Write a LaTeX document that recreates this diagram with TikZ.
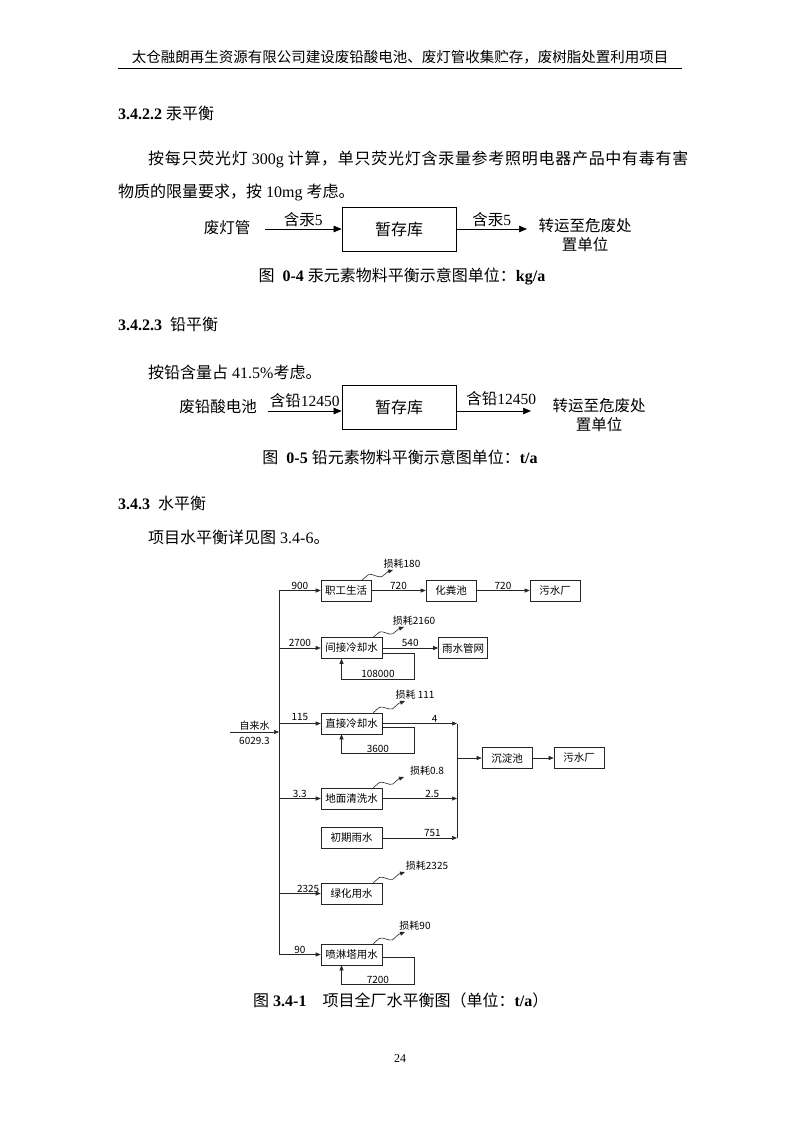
\documentclass[tikz,border=0pt]{standalone}
\usepackage{fontspec}
\setmainfont{Liberation Serif}
\newfontfamily\cjk{Noto Sans CJK SC}
\usetikzlibrary{arrows.meta,decorations.pathmorphing}
\newcommand{\zh}[1]{{\cjk #1}}
\newcommand{\zhs}[1]{{\cjk\addfontfeature{LetterSpace=4.5}#1}}
\newcommand{\TX}{279}
\newcommand{\CX}{457}

\begin{document}
\begin{tikzpicture}[x=1pt, y=-1pt,
    body/.style={font=\fontsize{16}{19}\selectfont, inner sep=0pt, anchor=west},
    capt/.style={font=\fontsize{16}{19}\selectfont, inner sep=0pt},
    txt/.style={font=\fontsize{15.5}{19}\selectfont\cjk, inner sep=0pt, align=center},
    blk/.style={draw=black, line width=0.8pt, minimum width=114pt, minimum height=44pt,
      inner sep=0pt, font=\fontsize{16}{19}\selectfont\cjk},
    bigflow/.style={draw=black, line width=0.7pt, -{Triangle[length=8pt,width=6.5pt]}},
    wbox/.style={draw=black!85, line width=0.6pt, minimum width=61pt, minimum height=21pt,
      inner sep=0pt, font=\fontsize{10.5}{12}\selectfont\cjk},
    wire/.style={draw=black!85, line width=0.6pt},
    flow/.style={wire, -{Triangle[length=5pt,width=4pt]}},
    num/.style={font=\fontsize{10}{12}\selectfont\cjk, inner sep=1pt},
    wave/.style={flow, decorate,
      decoration={snake, amplitude=3pt, segment length=24pt, post length=5pt}},
  ]
  \fill[white] (0,0) rectangle (800,1131);
  \useasboundingbox (0,0) rectangle (800,1131);

  % loss branch: #1 box, #2 name, #3 tip, #4 label centre, #5 text
  \newcommand{\loss}[5]{%
    \coordinate (#2tip) at (#3);
    \node[num] (#2) at (#4) {#5};
    \draw[wave] ([xshift=-9pt]#1.north east) -- (#2tip);}

  % page header
  \node[font=\fontsize{14.5}{16}\selectfont\cjk, inner sep=0pt] (hdr) at (400,57)
    {太仓融朗再生资源有限公司建设废铅酸电池、废灯管收集贮存，废树脂处置利用项目};
  \draw[line width=0.9pt] (118,68.5) -- (682,68.5);

  % mercury
  \node[body] (secA) at (118,113) {\textbf{3.4.2.2} \zh{汞平衡}};
  \node[body] (parA) at (148,159)
    {\zhs{按每只荧光灯} 300g \zhs{计算，单只荧光灯含汞量参考照明电器产品中有毒有害}};
  \node[body] (parB) at (118,192) {\zh{物质的限量要求，按} 10mg \zh{考虑。}};

  \node[txt] (lamp) at (227,228) {废灯管};
  \coordinate (lampout) at (265,229);
  \node[blk] (storeA) at (399,229) {暂存库};
  \coordinate (destAin) at (527,229);
  \node[txt] (destA) at (585,235) {转运至危废处\\置单位};
  \draw[bigflow] (lampout) -- (storeA.west)
    node[txt, midway, above=2pt] {含汞\rmfamily 5};
  \draw[bigflow] (storeA.east) -- (destAin)
    node[txt, midway, above=2pt] {含汞\rmfamily 5};
  \node[capt] (capA) at (402,276)
    {\zh{图}\ \ \textbf{0-4} \zh{汞元素物料平衡示意图单位：}\textbf{kg/a}};

  % lead
  \node[body] (secB) at (118,324) {\textbf{3.4.2.3}\ \ \zh{铅平衡}};
  \node[body] (parC) at (148,372) {\zh{按铅含量占} 41.5\%\zh{考虑。}};

  \node[txt] (batt) at (218,407) {废铅酸电池};
  \coordinate (battout) at (268,411);
  \node[blk] (storeB) at (399,407) {暂存库};
  \coordinate (destBin) at (531,411);
  \node[txt] (destB) at (599,415) {转运至危废处\\置单位};
  \draw[bigflow] (battout) -- (battout -| storeB.west)
    node[txt, midway, above=3pt] {含铅\rmfamily 12450};
  \draw[bigflow] (destBin -| storeB.east) -- (destBin)
    node[txt, pos=0.6, above=5pt] {含铅\rmfamily 12450};
  \node[capt] (capB) at (400,457)
    {\zh{图}\ \ \textbf{0-5} \zh{铅元素物料平衡示意图单位：}\textbf{t/a}};

  % water
  \node[body] (secC) at (118,503) {\textbf{3.4.3}\ \ \zh{水平衡}};
  \node[body] (parD) at (148,537) {\zh{项目水平衡详见图} 3.4-6\zh{。}};

  \coordinate (trt) at (\TX,590.5);
  \coordinate (trb) at (\TX,954.5);
  \coordinate (src) at (230,732);
  \coordinate (colt) at (\CX,723.5);
  \coordinate (colb) at (\CX,838);

  \node[wbox, minimum width=50pt] (staff)  at (346,590.5) {职工生活};
  \node[wbox, minimum width=50pt] (septic) at (451,590.5) {化粪池};
  \node[wbox, minimum width=50pt] (plantA) at (555,590.5) {污水厂};
  \node[wbox] (icool) at (351.5,648) {间接冷却水};
  \node[wbox, minimum width=49pt] (rain) at (463,648) {雨水管网};
  \node[wbox] (dcool) at (351.5,723.5) {直接冷却水};
  \node[wbox] (floor) at (351.5,798.5) {地面清洗水};
  \node[wbox] (early) at (351.5,838) {初期雨水};
  \node[wbox] (green) at (351.5,893.5) {绿化用水};
  \node[wbox] (spray) at (351.5,954.5) {喷淋塔用水};
  \node[wbox, minimum width=50pt] (settle) at (507,758) {沉淀池};
  \node[wbox, minimum width=50pt] (plantB) at (579,758) {污水厂};

  % supply trunk
  \draw[wire] (trt) -- (trb);
  \draw[flow] (src) -- (src -| trt)
    node[num, midway, above] {自来水} node[num, midway, below=4pt] {6029.3};
  \draw[flow] (staff.west -| trt) -- (staff.west) node[num, midway, above] {900};
  \draw[flow] (icool.west -| trt) -- (icool.west) node[num, midway, above] {2700};
  \draw[flow] (dcool.west -| trt) -- (dcool.west) node[num, midway, above=2pt] {115};
  \draw[flow] (floor.west -| trt) -- (floor.west) node[num, midway, above] {3.3};
  \draw[flow] (green.west -| trt) -- (green.west) node[num, pos=0.7, above] {2325};
  \draw[flow] (spray.west -| trt) -- (spray.west) node[num, midway, above] {90};

  % onward flows
  \draw[flow] (staff) -- (septic) node[num, midway, above] {720};
  \draw[flow] (septic) -- (plantA) node[num, midway, above] {720};
  \draw[flow] (icool) -- (rain) node[num, midway, above] {540};
  \draw[flow] (dcool.east) -- (dcool.east -| colt) node[num, pos=0.7, above] {4};
  \draw[flow] (floor.east) -- (floor.east -| colt) node[num, pos=0.67, above] {2.5};
  \draw[flow] (early.east) -- (early.east -| colt) node[num, pos=0.67, above] {751};
  \draw[wire] (colt) -- (colb);
  \draw[flow] (settle.west -| colt) -- (settle.west);
  \draw[flow] (settle) -- (plantB);

  % recirculation loops
  \draw[flow] ([yshift=-5pt]icool.east) -- ++(32,0) -- ++(0,26)
    -| node[num, pos=0.25, above] {108000} ([xshift=-10pt]icool.south);
  \draw[flow] ([yshift=-4pt]dcool.east) -- ++(32,0) -- ++(0,26)
    -| node[num, pos=0.25, above] {3600} ([xshift=-10pt]dcool.south);
  \draw[flow] ([yshift=-3pt]spray.east) -- ++(32,0) -- ++(0,27)
    -| node[num, pos=0.25, above] {7200} ([xshift=-10pt]spray.south);

  % losses
  \loss{staff}{lossA}{393,570}{402,564}{损耗180}
  \loss{icool}{lossB}{404,627}{414,621}{损耗2160}
  \loss{dcool}{lossC}{405,701}{415,695}{损耗 111}
  \loss{floor}{lossD}{404,777}{427,771}{损耗0.8}
  \loss{green}{lossE}{405,872}{427,866}{损耗2325}
  \loss{spray}{lossF}{405,932}{415,926}{损耗90}

  \node[body] (capC) at (253,1000)
    {\zh{图} \textbf{3.4-1}\quad\zh{项目全厂水平衡图（单位：}\textbf{t/a}\zh{）}};

  \node[font=\fontsize{12}{14}\selectfont, inner sep=0pt] (pgno) at (400,1059) {24};
\end{tikzpicture}
\end{document}
